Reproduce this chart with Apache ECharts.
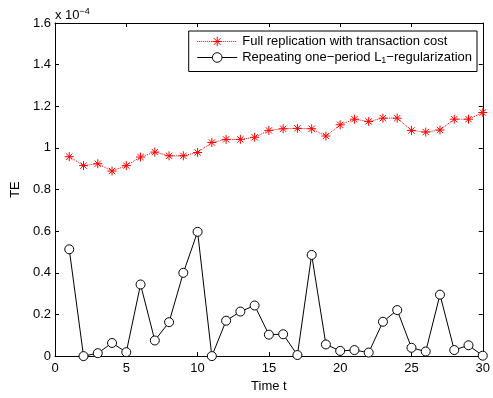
<!DOCTYPE html>
<html><head><meta charset="utf-8">
<script src="https://cdn.jsdelivr.net/npm/echarts@6/dist/echarts.min.js"></script>
<style>html,body{margin:0;padding:0;background:#fff}#c{width:493px;height:398px}</style>
</head><body><div id="c"></div>
<script>
const timeSteps = [1,2,3,4,5,6,7,8,9,10,11,12,13,14,15,16,17,18,19,20,21,22,23,24,25,26,27,28,29,30];
const fullReplication = [0.958,0.915,0.924,0.889,0.915,0.956,0.980,0.962,0.962,0.978,1.026,1.041,1.041,1.051,1.084,1.092,1.094,1.092,1.057,1.111,1.138,1.127,1.143,1.143,1.084,1.076,1.086,1.138,1.138,1.170];
const repeatingL1 = [0.513,0.0,0.014,0.063,0.019,0.344,0.075,0.163,0.400,0.597,0.0,0.170,0.214,0.243,0.103,0.105,0.005,0.486,0.056,0.025,0.029,0.017,0.165,0.221,0.040,0.022,0.295,0.029,0.052,0.002];
const seriesNames = ['Full replication with transaction cost', 'Repeating one\u2212period L1\u2212regularization'];
const xTicks = [0,5,10,15,20,25,30];
const yTicks = [0,0.2,0.4,0.6,0.8,1.0,1.2,1.4,1.6];

const FONT = 'Liberation Sans, Arial, Helvetica, sans-serif';
const FS = 13;
const star = 'path://M0,-1L0,1M-1,0L1,0M-0.7,-0.7L0.7,0.7M-0.7,0.7L0.7,-0.7';
const chart = echarts.init(document.getElementById('c'), null, {renderer:'canvas'});
const axisCommon = {
  axisLine:{show:true,onZero:false,lineStyle:{color:'#000',width:1}},
  axisTick:{show:true,inside:true,length:4,lineStyle:{color:'#000'}},
  splitLine:{show:false}
};
chart.setOption({
  animation:false,
  textStyle:{fontFamily:FONT},
  grid:{left:55,right:10,top:23,bottom:38,containLabel:false},
  xAxis:[
    Object.assign({type:'value',min:0,max:30,interval:5,position:'bottom',
      name:'Time t',nameLocation:'middle',nameGap:19,
      nameTextStyle:{color:'#000',fontSize:FS,fontFamily:FONT},
      axisLabel:{color:'#000',fontSize:FS,fontFamily:FONT,margin:6}},axisCommon),
    Object.assign({type:'value',min:0,max:30,interval:5,position:'top',axisLabel:{show:false}},axisCommon)
  ],
  yAxis:[
    Object.assign({type:'value',min:0,max:1.6,interval:0.2,position:'left',
      name:'TE',nameLocation:'middle',nameGap:24,nameRotate:90,
      nameTextStyle:{color:'#000',fontSize:FS,fontFamily:FONT},
      axisLabel:{color:'#000',fontSize:FS,fontFamily:FONT,margin:4,
        formatter:v=>String(+v.toFixed(1))}},axisCommon),
    Object.assign({type:'value',min:0,max:1.6,interval:0.2,position:'right',axisLabel:{show:false}},axisCommon)
  ],
  legend:{
    orient:'vertical',right:16,top:31,
    backgroundColor:'#fff',borderColor:'#000',borderWidth:1,borderRadius:0,
    padding:[4,5,6,8],itemGap:3,itemWidth:40,itemHeight:12,
    data:seriesNames,
    lineStyle:{width:1},
    itemStyle:{borderWidth:1},
    formatter:function(n){
      if(n===seriesNames[1]) return 'Repeating one\u2212period L{sub|1}\u2212regularization';
      return n;
    },
    textStyle:{color:'#000',fontSize:FS,fontFamily:FONT,
      rich:{sub:{fontSize:9,verticalAlign:'bottom',padding:[7,0,0,0],fontFamily:FONT,color:'#000'}}}
  },
  graphic:[{
    type:'text',left:55,top:7,
    style:{text:'x 10{sup|\u22124}',fill:'#000',font:FS+'px '+FONT,
      rich:{sup:{fontSize:9,verticalAlign:'top',padding:[0,0,7,0],fill:'#000'}}}
  }],
  series:[
    {name:seriesNames[0],type:'line',data:timeSteps.map((t,i)=>[t,fullReplication[i]]),
      symbol:star,symbolSize:9,
      lineStyle:{color:'#ff0000',width:1,type:'dotted'},
      itemStyle:{color:'#ff0000',borderColor:'#ff0000',borderWidth:1}},
    {name:seriesNames[1],type:'line',data:timeSteps.map((t,i)=>[t,repeatingL1[i]]),
      symbol:'circle',symbolSize:9,
      lineStyle:{color:'#000',width:1},
      itemStyle:{color:'#fff',borderColor:'#000',borderWidth:1}}
  ]
});
</script></body></html>
